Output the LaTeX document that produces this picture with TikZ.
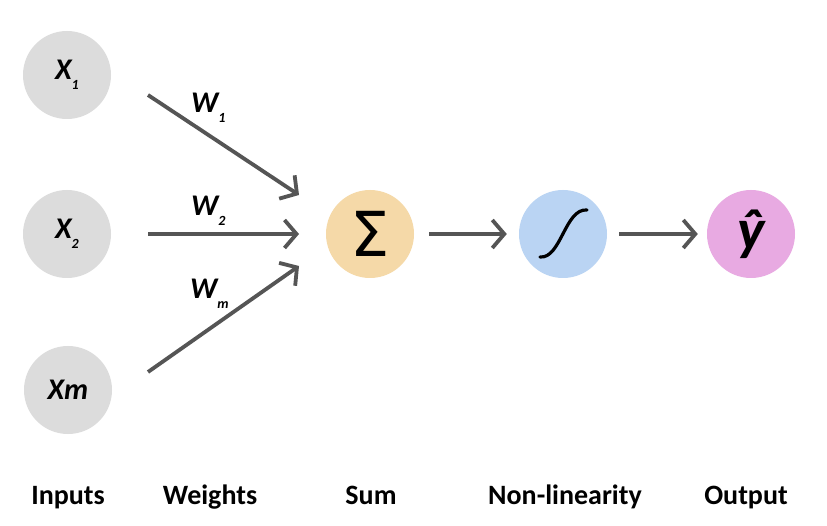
\documentclass[tikz,border=0pt]{standalone}
\usepackage{fontspec}
\setmainfont{Carlito}
\newfontfamily\dejavu{DejaVu Sans}
\usetikzlibrary{arrows.meta}
\definecolor{incol}{HTML}{DCDCDC}
\definecolor{sumcol}{HTML}{F5D9A8}
\definecolor{sigcol}{HTML}{BAD4F3}
\definecolor{outcol}{HTML}{E8AAE2}
\definecolor{arrcol}{HTML}{555555}
\newcommand{\sub}[1]{\raisebox{-0.33em}{\fontsize{14}{14}\selectfont #1}}
\tikzset{
  circ/.style={circle, minimum size=88pt, inner sep=0pt, draw=none},
  lab/.style={font=\fontsize{30}{30}\selectfont\bfseries\itshape, text=black},
  wlab/.style={anchor=base west, inner sep=0pt, font=\fontsize{30}{30}\selectfont\bfseries\itshape},
  captxt/.style={anchor=base, inner sep=0pt, font=\fontsize{28}{28}\selectfont\bfseries},
  arr/.style={draw=arrcol, line width=3.8pt, -{Straight Barb[length=12pt,width=28pt]}}
}
\begin{document}
\begin{tikzpicture}[x=1pt,y=-1pt]
\useasboundingbox (0,0) rectangle (827,526);
\fill[white] (0,0) rectangle (827,526);

% input circles
\node[circ, fill=incol, lab] (x1) at (67,75) {X\sub{1}};
\node[circ, fill=incol, lab] (x2) at (67,234) {X\sub{2}};
\node[circ, fill=incol, lab] (xm) at (68,390) {Xm};

% processing circles
\node[circ, fill=sumcol] (sum) at (370,234) {\dejavu\fontsize{62}{62}\selectfont Σ};
\node[circ, fill=sigcol] (sig) at (563,234) {};
\node[circ, fill=outcol, font=\fontsize{58}{58}\selectfont\bfseries\itshape] (out) at (751,234) {ŷ};

% sigmoid glyph
\coordinate (s1) at (540,257);
\coordinate (s2) at (587,210);
\draw[line width=3.2pt, line cap=round, black] (s1) .. controls (561,259) and (565,208) .. (s2);

% weight arrows
\coordinate (a1s) at (148,95);
\coordinate (a1e) at (299,195);
\coordinate (a2s) at (148,234);
\coordinate (a2e) at (299,234);
\coordinate (ams) at (148,372);
\coordinate (ame) at (299,266);
\draw[arr] (a1s) -- (a1e);
\draw[arr] (a2s) -- (a2e);
\draw[arr] (ams) -- (ame);

\draw[arr] ([xshift=15pt]sum.east) -- ([xshift=-12pt]sig.west);
\draw[arr] ([xshift=12pt]sig.east) -- ([xshift=-9pt]out.west);

% weight labels
\node[wlab] (w1) at (191,113) {W\sub{1}};
\node[wlab] (w2) at (191,216) {W\sub{2}};
\node[wlab] (wm) at (190,299) {W\sub{m}};

% captions
\node[captxt] (c1) at (68,504) {Inputs};
\node[captxt] (c2) at (210,504) {Weights};
\node[captxt] (c3) at (371,504) {Sum};
\node[captxt] (c4) at (565,504) {Non-linearity};
\node[captxt] (c5) at (746,504) {Output};
\end{tikzpicture}
\end{document}
